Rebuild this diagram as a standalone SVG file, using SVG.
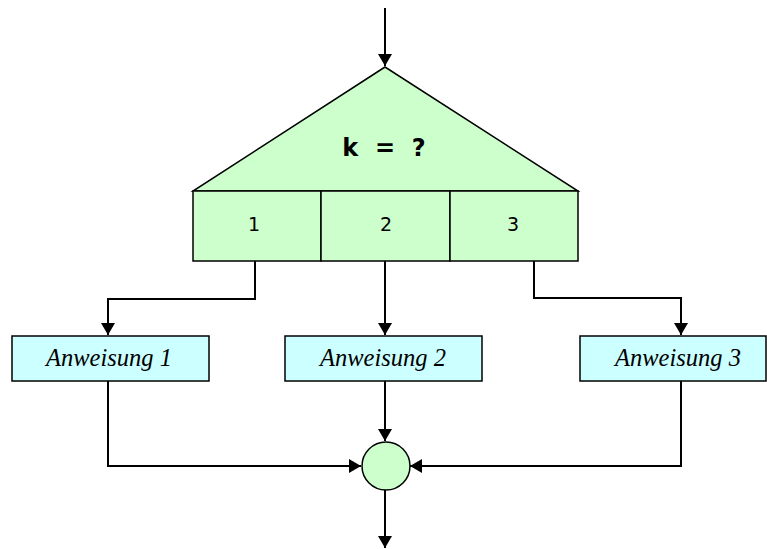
<svg xmlns="http://www.w3.org/2000/svg" width="767" height="549" viewBox="0 0 767 549">
<style>
.ln{fill:none;stroke:#000;stroke-width:2}
.g{fill:#CCFFCC;stroke:#000;stroke-width:1.5}
.c{fill:#CCFFFF;stroke:#000;stroke-width:1.5}
.num{font-family:"DejaVu Sans",sans-serif;font-size:19px;text-anchor:middle}
.hd{font-family:"DejaVu Sans",sans-serif;font-size:24px;font-weight:bold;text-anchor:middle;white-space:pre}
.lbl{font-family:"Liberation Serif",serif;font-style:italic;font-size:24.5px;text-anchor:middle}
</style>
<defs>
<marker id="ah" viewBox="0 0 12 14" refX="12" refY="7" markerWidth="12" markerHeight="14" markerUnits="userSpaceOnUse" orient="auto">
<path d="M0,0 L12,7 L0,14 Z" fill="#000"/>
</marker>
</defs>
<g id="connectors">
<path class="ln" d="M385,8 V66" marker-end="url(#ah)"/>
<path class="ln" d="M255,261 V299 H108 V335" marker-end="url(#ah)"/>
<path class="ln" d="M385,261 V335" marker-end="url(#ah)"/>
<path class="ln" d="M534,261 V298 H681 V335" marker-end="url(#ah)"/>
<path class="ln" d="M385,381 V441" marker-end="url(#ah)"/>
<path class="ln" d="M108,381 V466 H361" marker-end="url(#ah)"/>
<path class="ln" d="M681,381 V466 H410" marker-end="url(#ah)"/>
<path class="ln" d="M385,490 V548" marker-end="url(#ah)"/>
</g>
<g id="decision">
<polygon class="g" points="385,67 193,191 578,191"/>
<text class="hd" x="384" y="156" xml:space="preserve">k  =  ?</text>
</g>
<g id="case1">
<rect class="g" x="193" y="191" width="128" height="70"/>
<text class="num" x="254" y="231">1</text>
</g>
<g id="case2">
<rect class="g" x="321" y="191" width="129" height="70"/>
<text class="num" x="386" y="231">2</text>
</g>
<g id="case3">
<rect class="g" x="450" y="191" width="128" height="70"/>
<text class="num" x="513" y="231">3</text>
</g>
<g id="anweisung1">
<rect class="c" x="12" y="336" width="197" height="45"/>
<text class="lbl" x="109" y="366">Anweisung 1</text>
</g>
<g id="anweisung2">
<rect class="c" x="285" y="336" width="197" height="45"/>
<text class="lbl" x="383" y="366">Anweisung 2</text>
</g>
<g id="anweisung3">
<rect class="c" x="580" y="336" width="186" height="45"/>
<text class="lbl" x="678" y="366">Anweisung 3</text>
</g>
<g id="join">
<ellipse class="g" cx="386" cy="466" rx="24" ry="24"/>
</g>
</svg>
